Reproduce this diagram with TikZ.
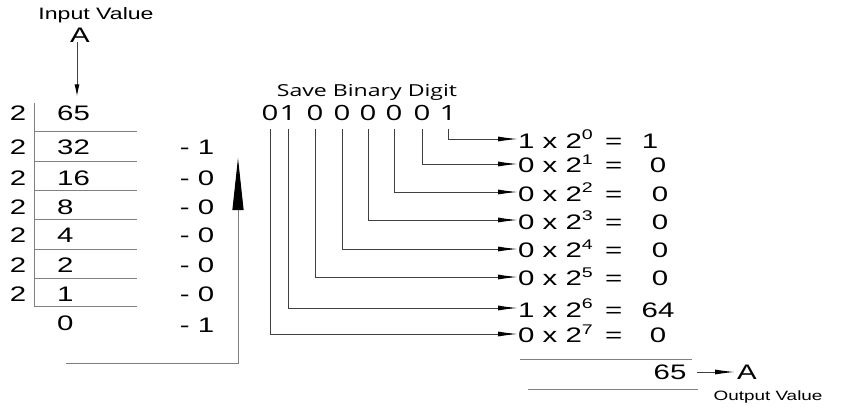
\documentclass[tikz,border=0pt]{standalone}
\usepackage{fontspec}
\setmainfont{Liberation Sans}[FakeStretch=1.4]
\newfontfamily\savefont{Open Sans}[FakeStretch=1.4]
\usepackage{tikz}
\usetikzlibrary{arrows.meta, positioning}

\newcommand{\pw}[1]{\raisebox{8.5pt}{\fontsize{14}{16}\selectfont #1}}

\tikzset{
    num/.style={inner sep=0pt, font=\fontsize{21}{25}\selectfont},
    caption/.style={inner sep=0pt, font=\fontsize{16.5}{20}\selectfont},
    bitnum/.style={inner sep=0pt, font=\savefont\fontsize{21}{25}\selectfont},
    rule/.style={draw=gray, line width=1pt},
    feed/.style={draw=black!75, line width=1pt, -{Latex[length=20pt,width=5pt,black]}}
}

\begin{document}
\begin{tikzpicture}[x=1pt, y=-1pt]
        \useasboundingbox (0,0) rectangle (845,408);

        % input side
        \node[caption] at (96, 15) (inlabel) {Input Value};
        \node[num] at (80, 35) (inA) {A};

        \foreach \i/\q/\y in {0/65/113, 1/32/147, 2/16/178, 3/8/207, 4/4/235, 5/2/265, 6/1/294, 7/0/323}
            \node[num, anchor=west] at (57, \y) (q\i) {\q};
        \foreach \i/\y in {0/113, 1/147, 2/178, 3/207, 4/235, 5/265, 6/294}
            \node[num] at (18, \y) (d\i) {2};
        \foreach \i/\r/\y in {1/1/147, 2/0/178, 3/0/207, 4/0/235, 5/0/265, 6/0/294, 7/1/325}
            \node[num] at (197, \y) (r\i) {- \r};

        \draw[rule] (34, 103) -- (34, 307);
        \foreach \y in {131, 161, 190, 219, 249, 278, 306}
            \draw[rule] (34, \y) -- (137, \y);

        \draw[draw=black!75, line width=1pt, -{Latex[length=12pt,width=5pt,black]}, shorten >=9pt]
            (inA.south) ++(-3,0) -- (77, 105.5 |- q0.north);

        \coordinate (retstart) at (66, 363);
        \coordinate (rettop) at (238, 158);
        \draw[rule, -{Triangle[length=52pt,width=11pt,black]}] (retstart) -| (rettop);

        % saved digits
        \node[caption, font=\savefont\fontsize{16.5}{20}\selectfont] at (367, 92) (savelabel) {Save Binary Digit};
        \foreach \k/\b/\x in {7/0/270, 6/1/288, 5/0/315, 4/0/342, 3/0/368, 2/0/394, 1/0/422, 0/1/448}
            \node[bitnum] at (\x, 113) (b\k) {\b};

        \foreach \k/\b/\y/\v/\vx in {0/1/139/1/650, 1/0/164/0/658, 2/0/192/0/660, 3/0/220/0/660,
                                     4/0/249/0/660, 5/0/277/0/660, 6/1/308/64/658, 7/0/334/0/658} {
            \node[num, anchor=west] at (518, \y) (e\k) {\b\ x 2\pw{\k}\hspace{4pt} =};
            \coordinate (vcol\k) at (\vx, 0);
            \node[num, anchor=base] at (e\k.base -| vcol\k) (v\k) {\v};
            \draw[feed, shorten <=8pt] (b\k.south) |- (e\k.west);
        }

        % output side
        \draw[rule] (520, 359) -- (692, 359);
        \draw[rule] (528, 389) -- (698, 389);
        \node[num] at (670, 372) (sum) {65};
        \node[num] at (747, 372) (outA) {A};
        \node[caption, font=\fontsize{13.5}{16}\selectfont] at (768, 397) (outlabel) {Output Value};
        \draw[feed, shorten <=10pt, shorten >=2pt] (sum.east) -- (outA.west);
    \end{tikzpicture}
\end{document}
